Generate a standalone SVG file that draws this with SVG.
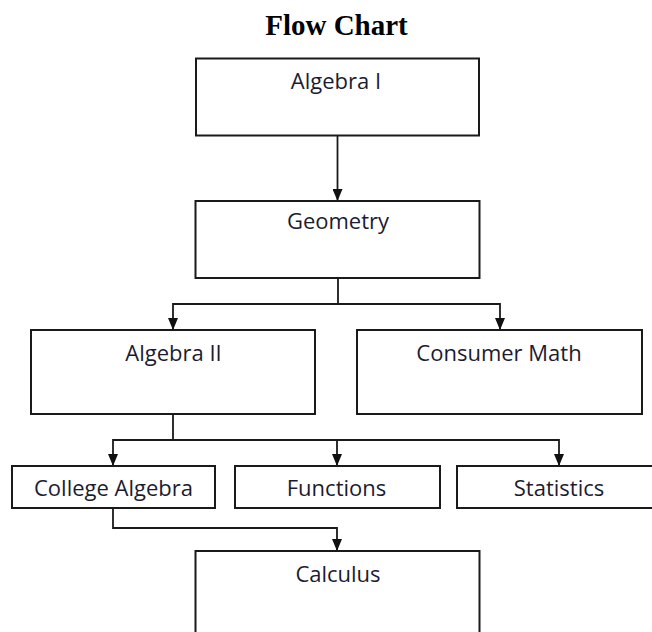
<svg xmlns="http://www.w3.org/2000/svg" width="652" height="632" viewBox="0 0 652 632">
  <style>
    .box { fill: #ffffff; stroke: #1a1a1a; stroke-width: 2; }
    .lbl { font-family: "Open Sans", "Noto Sans", sans-serif; font-size: 22px; fill: #1c1c30; text-anchor: middle; }
    .title { font-family: "Liberation Serif", "Times New Roman", serif; font-size: 29px; font-weight: bold; fill: #000000; text-anchor: middle; }
    .conn { fill: none; stroke: #1a1a1a; stroke-width: 1.8; }
  </style>
  <defs>
    <marker id="arrow" markerUnits="userSpaceOnUse" markerWidth="12" markerHeight="10" refX="12" refY="5" orient="auto" viewBox="0 0 12 10">
      <path d="M0,0 L12,5 L0,10 Z" fill="#111111"/>
    </marker>
  </defs>
  <rect width="652" height="632" fill="#ffffff"/>
  <text class="title" x="336.5" y="35">Flow Chart</text>

  <g id="connectors">
    <path class="conn" d="M337.5,135.5 L337.5,201" marker-end="url(#arrow)"/>
    <path class="conn" d="M338,278 L338,304 L173,304 L173,330" marker-end="url(#arrow)"/>
    <path class="conn" d="M338,304 L500,304 L500,330" marker-end="url(#arrow)"/>
    <path class="conn" d="M173,414 L173,440 L113,440 L113,466" marker-end="url(#arrow)"/>
    <path class="conn" d="M173,440 L337,440 L337,466" marker-end="url(#arrow)"/>
    <path class="conn" d="M337,440 L559,440 L559,466" marker-end="url(#arrow)"/>
    <path class="conn" d="M113,508 L113,528 L337,528 L337,551" marker-end="url(#arrow)"/>
  </g>

  <g id="algebra1">
    <rect class="box" x="196" y="58.5" width="283" height="77"/>
    <text class="lbl" x="336" y="89">Algebra I</text>
  </g>
  <g id="geometry">
    <rect class="box" x="195.5" y="201" width="284" height="77"/>
    <text class="lbl" x="338" y="229">Geometry</text>
  </g>
  <g id="algebra2">
    <rect class="box" x="31" y="330" width="284" height="84"/>
    <text class="lbl" x="173.5" y="361">Algebra II</text>
  </g>
  <g id="consumer-math">
    <rect class="box" x="357" y="330" width="285" height="84"/>
    <text class="lbl" x="499" y="361">Consumer Math</text>
  </g>
  <g id="college-algebra">
    <rect class="box" x="12" y="466" width="203" height="42"/>
    <text class="lbl" x="113.5" y="496">College Algebra</text>
  </g>
  <g id="functions">
    <rect class="box" x="235" y="466" width="205" height="42"/>
    <text class="lbl" x="336.5" y="496">Functions</text>
  </g>
  <g id="statistics">
    <rect class="box" x="457" y="466" width="204" height="42"/>
    <text class="lbl" x="559" y="496">Statistics</text>
  </g>
  <g id="calculus">
    <rect class="box" x="195.5" y="551" width="284" height="120"/>
    <text class="lbl" x="338" y="582">Calculus</text>
  </g>
</svg>
